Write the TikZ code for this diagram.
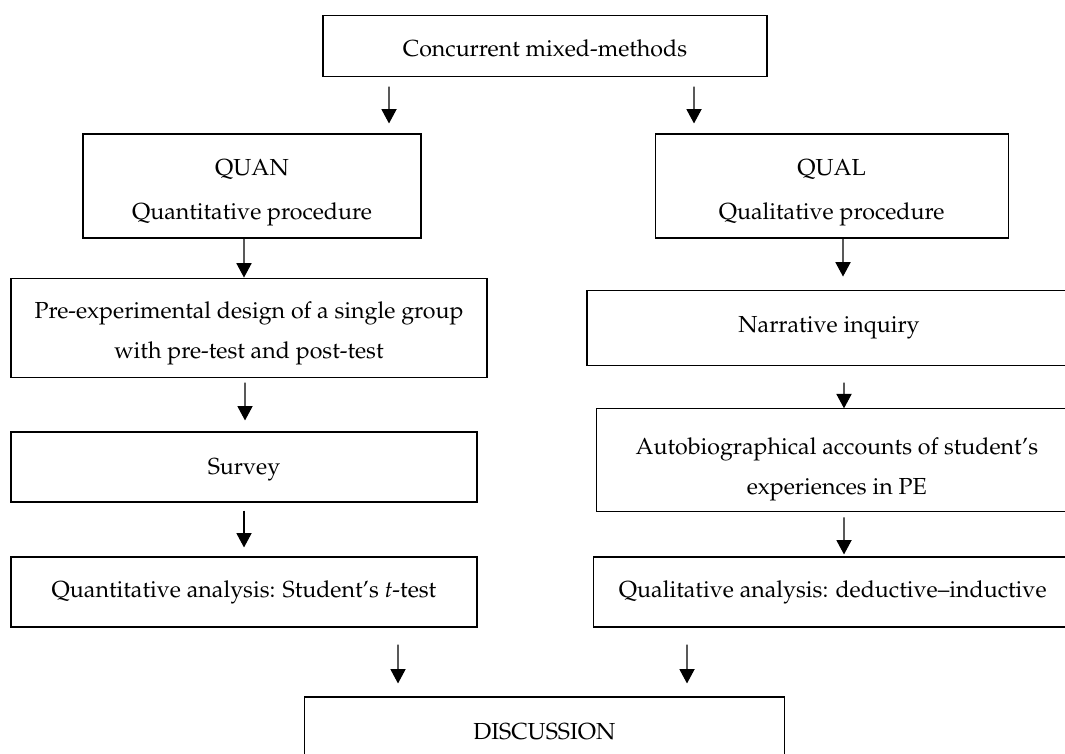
\documentclass[tikz,border=0pt]{standalone}
\usepackage[T1]{fontenc}
\usepackage{mathpazo}
\usetikzlibrary{arrows.meta}
\begin{document}
\begin{tikzpicture}[>={Triangle[length=3.6mm,width=3.8mm]},
    box/.style={draw, align=center, inner sep=0pt,
      font=\fontsize{16.5}{28.4}\selectfont},
    every path/.style={line width=0.8pt}]
      \useasboundingbox (0,0) rectangle (26.625,-18.825);
      \node[box, minimum width=11.1cm, minimum height=1.525cm] (mix) at (13.625,-1.14) {\rule{0pt}{16pt}Concurrent mixed-methods};
      \node[box, minimum width=8.45cm, minimum height=2.6cm] (quan) at (6.3,-4.65) {\rule{0pt}{21pt}QUAN\\[2.8pt] Quantitative procedure};
      \node[box, minimum width=8.825cm, minimum height=2.6cm] (qual) at (20.79,-4.65) {\rule{0pt}{21pt}QUAL\\[2.8pt] Qualitative procedure};
      \node[box, minimum width=11.9cm, minimum height=2.475cm] (pre) at (6.225,-8.19) {\rule{0pt}{20.5pt}Pre-experimental design of a single group\\ with pre-test and post-test};
      \node[box, minimum width=11.65cm, minimum height=1.75cm] (survey) at (6.1,-11.675) {\rule{0pt}{15pt}Survey};
      \node[box, minimum width=11.65cm, minimum height=1.75cm] (ttest) at (6.1,-14.8) {Quantitative analysis: Student's \textit{t}-test};
      \node[box, minimum width=12.1cm, minimum height=1.875cm] (narr) at (20.725,-8.19) {Narrative inquiry};
      \node[box, minimum width=12cm, minimum height=2.575cm] (auto) at (20.92,-11.51) {\rule{0pt}{25pt}Autobiographical accounts of student's\\ experiences in PE};
      \node[box, minimum width=11.95cm, minimum height=1.75cm] (dedind) at (20.82,-14.8) {Qualitative analysis: deductive--inductive};
      \node[box, minimum width=12cm, minimum height=1.75cm] (disc) at (13.61,-18.3) {DISCUSSION};
      \draw [->] ([xshift=-3.9cm,yshift=-0.25cm]mix.south) -- ([xshift=3.425cm,yshift=0.25cm]quan.north);
      \draw [->] ([xshift=3.725cm,yshift=-0.25cm]mix.south) -- ([xshift=-3.44cm,yshift=0.25cm]qual.north);
      \draw [->] ([xshift=-0.2cm]quan.south) -- ([xshift=-0.125cm]pre.north);
      \draw [->] ([xshift=-0.1cm,yshift=-0.125cm]pre.south) -- ([xshift=0.025cm,yshift=0.275cm]survey.north);
      \draw [->] ([yshift=-0.2cm]survey.south) -- ([yshift=0.225cm]ttest.north);
      \draw [->] ([xshift=0.285cm]qual.south) -- ([xshift=0.35cm,yshift=0.325cm]narr.north);
      \draw [->] ([xshift=0.375cm,yshift=-0.425cm]narr.south) -- ([xshift=0.18cm]auto.north);
      \draw [->] ([xshift=0.18cm,yshift=-0.125cm]auto.south) -- ([xshift=0.28cm,yshift=0.05cm]dedind.north);
      \draw [->] ([xshift=3.85cm,yshift=-0.425cm]ttest.south) -- ([xshift=-3.66cm,yshift=0.325cm]disc.north);
      \draw [->] ([xshift=-3.645cm,yshift=-0.425cm]dedind.south) -- ([xshift=3.565cm,yshift=0.325cm]disc.north);
    \end{tikzpicture}
\end{document}
